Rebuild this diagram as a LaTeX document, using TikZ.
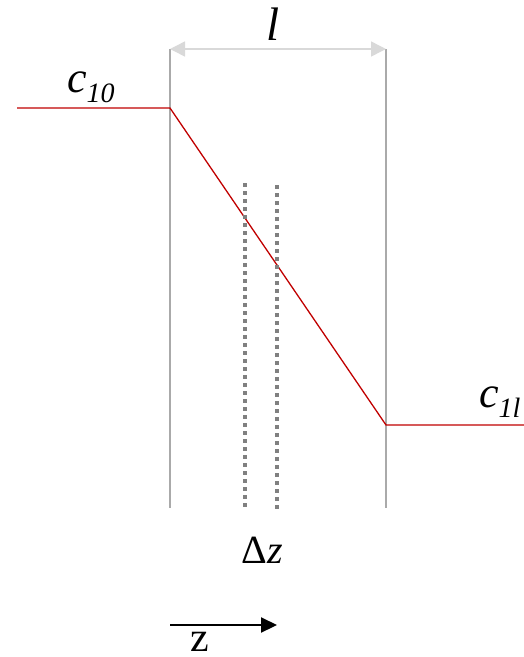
\documentclass[tikz,border=0pt]{standalone}
\usepackage{fontspec}
\setmainfont{Liberation Serif}
\usetikzlibrary{arrows.meta}
\definecolor{vgray}{RGB}{170,170,170}
\definecolor{lgray}{RGB}{217,217,217}
\definecolor{dgray}{RGB}{128,128,128}
\definecolor{cred}{RGB}{192,0,0}
\tikzset{
  wall/.style={draw=vgray,line width=1.3pt},
  conc/.style={draw=cred,line width=1.3pt},
  slice/.style={draw=dgray,line width=3.5pt,dash pattern=on 4pt off 4pt},
  lbl/.style={inner sep=0pt},
}
\newcommand{\csub}[2]{{\fontsize{44}{48}\selectfont\itshape #1}\raisebox{-10pt}{\fontsize{28}{30}\selectfont\itshape #2}}
\begin{document}
\begin{tikzpicture}[x=1pt,y=-1pt]
\useasboundingbox (0,0) rectangle (524,657);
% walls
\coordinate (wlt) at (170,49);
\coordinate (wlb) at (170,508);
\coordinate (wrt) at (386,49);
\coordinate (wrb) at (386,508);
\draw[wall] (wlt) -- (wlb);
\draw[wall] (wrt) -- (wrb);
% dimension
\draw[draw=lgray,line width=1.5pt,{Triangle[length=15pt,width=15pt]}-{Triangle[length=15pt,width=15pt]}] (wlt) -- (wrt);
\node[lbl,anchor=base] (l) at (273,40) {\fontsize{47}{50}\selectfont\itshape l};
% concentration profile
\coordinate (p0) at (17,108);
\coordinate (p1) at (170,108);
\coordinate (p2) at (386,425);
\coordinate (p3) at (530,425);
\draw[conc] (p0) -- (p1) -- (p2) -- (p3);
\node[lbl,anchor=base west] (c10) at (67,92) {\csub{c}{10}};
\node[lbl,anchor=base west] (c1l) at (479,407) {\csub{c}{1l}};
% slice
\coordinate (s1t) at (245,183);
\coordinate (s1b) at (245,508);
\coordinate (s2t) at (277,185);
\coordinate (s2b) at (277,509);
\draw[slice] (s1t) -- (s1b);
\draw[slice] (s2t) -- (s2b);
\node[lbl,anchor=base] (dz) at (262,563) {\fontsize{40}{44}\selectfont Δ\textit{z}};
% z direction
\coordinate (za) at (170,625);
\coordinate (zb) at (277,625);
\draw[line width=2.2pt,-{Triangle[length=16pt,width=15pt]}] (za) -- (zb);
\node[lbl,anchor=base] (z) at (200,651) {\fontsize{42}{46}\selectfont z};
\end{tikzpicture}
\end{document}
